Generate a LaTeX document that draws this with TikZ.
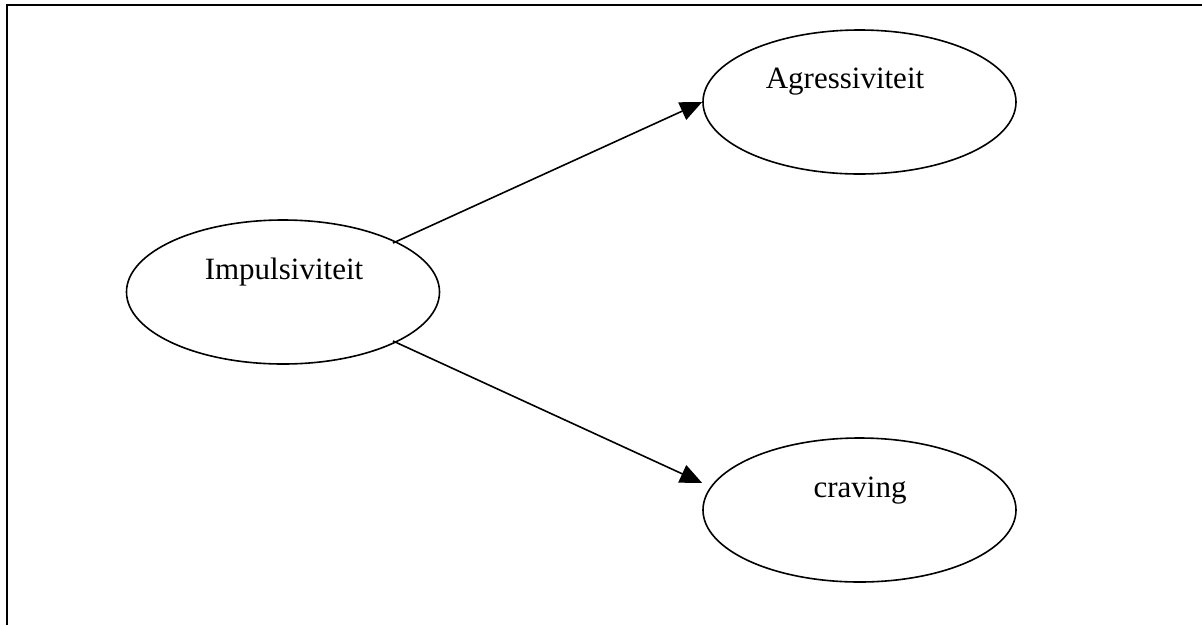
\documentclass[tikz,border=0pt]{standalone}
\usepackage{fontspec}
\setmainfont{Liberation Serif}
\usetikzlibrary{shapes.geometric,arrows.meta,calc}
\tikzset{
  oval/.style={draw, ellipse, line width=1.6pt, minimum width=313pt, minimum height=144pt, inner sep=0pt},
  lbl/.style={anchor=base, inner sep=0pt, font=\fontsize{31}{37}\selectfont},
  conn/.style={line width=1.6pt, -{Triangle[length=22pt,width=19pt]}},
  frame/.style={line width=2.6pt}
}
\begin{document}
\begin{tikzpicture}[x=1pt,y=-1pt]
\useasboundingbox (0,0) rectangle (1202,625);
\draw[frame] (7,625) -- (7,5) -- (1202,5);
\node[oval] (imp) at (283,292) {};
\node[oval] (agr) at (859.5,102) {};
\node[oval] (crv) at (859.5,510) {};
\node[lbl] (impt) at (284,279) {Impulsiviteit};
\node[lbl] (agrt) at (845,88) {Agressiviteit};
\node[lbl] (crvt) at (860,497) {craving};
\coordinate (s1) at ($(imp.center)+(110,-49)$);
\coordinate (s2) at ($(imp.center)+(110,49)$);
\coordinate (e2) at ($(crv.west)+(0,-27)$);
\draw[conn] (s1) -- (agr.west);
\draw[conn] (s2) -- (e2);
\end{tikzpicture}
\end{document}
